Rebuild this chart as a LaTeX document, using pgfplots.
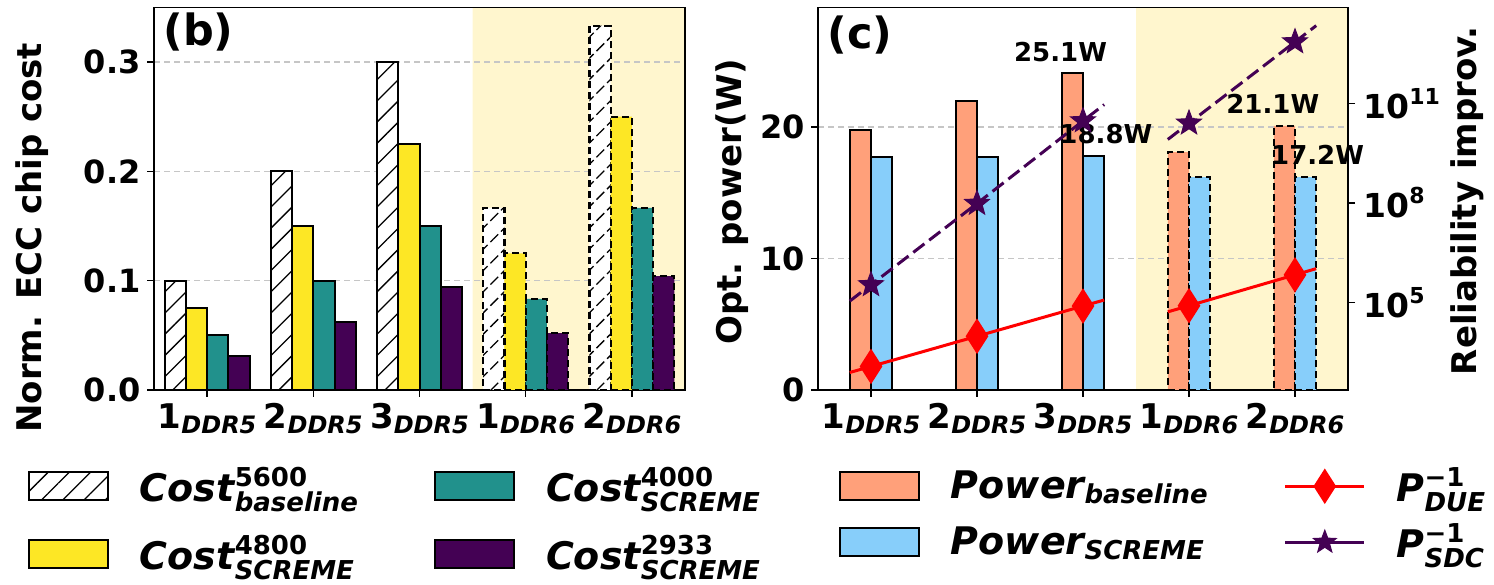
\documentclass[border=0pt]{standalone}
\usepackage{fontspec}
\setmainfont{DejaVu Sans}
\usepackage{pgfplots}
\pgfplotsset{compat=1.18}
\usetikzlibrary{patterns.meta}
\definecolor{vyel}{HTML}{FDE725}
\definecolor{vteal}{HTML}{21918C}
\definecolor{vpur}{HTML}{440154}
\definecolor{salm}{HTML}{FFA07A}
\definecolor{skyb}{HTML}{87CEFA}
\definecolor{shade}{RGB}{255,246,206}

\pgfdeclareplotmark{fstar}{%
  \pgfpathmoveto{\pgfqpointpolar{90}{\pgfplotmarksize}}%
  \pgfpathlineto{\pgfqpointpolar{126}{0.42\pgfplotmarksize}}%
  \pgfpathlineto{\pgfqpointpolar{162}{\pgfplotmarksize}}%
  \pgfpathlineto{\pgfqpointpolar{198}{0.42\pgfplotmarksize}}%
  \pgfpathlineto{\pgfqpointpolar{234}{\pgfplotmarksize}}%
  \pgfpathlineto{\pgfqpointpolar{270}{0.42\pgfplotmarksize}}%
  \pgfpathlineto{\pgfqpointpolar{306}{\pgfplotmarksize}}%
  \pgfpathlineto{\pgfqpointpolar{342}{0.42\pgfplotmarksize}}%
  \pgfpathlineto{\pgfqpointpolar{18}{\pgfplotmarksize}}%
  \pgfpathlineto{\pgfqpointpolar{54}{0.42\pgfplotmarksize}}%
  \pgfpathclose
  \pgfusepathqfillstroke
}

\newcommand{\xl}[2]{#1\raisebox{-2.5pt}{\fontsize{12}{12}\selectfont\itshape #2}}
\newcommand{\supsub}[2]{\rlap{\raisebox{7.5pt}{\fontsize{13}{13}\selectfont\upshape #1}}\raisebox{-5pt}{\fontsize{13}{13}\selectfont #2}}
\newcommand{\subonly}[1]{\raisebox{-2.5pt}{\fontsize{13}{13}\selectfont #1}}

\pgfplotsset{
  mybase/.style={
    scale only axis, width=265.5pt, height=191.3pt, anchor=south west,
    xmin=-0.5, xmax=4.5, xtick={0,1,2,3,4},
    xticklabels={{\xl{1}{DDR5}},{\xl{2}{DDR5}},{\xl{3}{DDR5}},{\xl{1}{DDR6}},{\xl{2}{DDR6}}},
    tick align=outside, major tick length=3.5pt,
    /pgf/number format/assume math mode=true,
    x tick label style={font=\fontsize{17}{17}\selectfont\bfseries, inner sep=3pt},
    y tick label style={font=\fontsize{16}{16}\selectfont\bfseries, inner sep=3pt},
    label style={font=\fontsize{17}{17}\selectfont\bfseries},
    axis line style={line width=0.7pt},
    every tick/.style={black, line width=0.7pt},
    set layers=standard,
    legend image code/.code={\draw[#1] (0pt,-7pt) rectangle (39.5pt,7pt);},
    legend style={draw=none, fill=none, inner sep=0pt, outer sep=0pt,
      legend columns=2, legend cell align=left,
      font=\fontsize{19}{19}\selectfont\bfseries\itshape,
      nodes={inner sep=0pt},
      /tikz/every odd column/.append style={column sep=15.5pt},
      /tikz/every even column/.append style={column sep=38pt}},
  },
  barstyle/.style={ybar, bar width=0.2, draw=black, line width=1pt, forget plot},
  ddrsix/.style={dash pattern=on 3.5pt off 2pt, line width=1.1pt},
  hatch/.style={fill=white, postaction={pattern={Lines[angle=45,distance=7.5pt,line width=0.65pt]}}},
  linelegend/.style={legend image code/.code={\draw[mark repeat=2,mark phase=2,##1] plot coordinates {(0pt,0pt) (19.75pt,0pt) (39.5pt,0pt)};}},
}

\begin{document}
\begin{tikzpicture}

% ---------------- (b) ----------------
\begin{axis}[mybase, at={(77pt,97pt)},
  ymin=0, ymax=0.35, ytick={0,0.1,0.2,0.3}, yticklabels={0.0,0.1,0.2,0.3},
  tick pos=left,
  ymajorgrids, grid style={dash pattern=on 3pt off 2pt, gray!45, line width=0.7pt},
  ylabel={Norm. ECC chip cost},
  ylabel style={at={(axis description cs:-0.230,0.398)}, anchor=center},
  legend style={at={(axis description cs:-0.2373,-0.3398)}, anchor=west, row sep=15.5pt},
]
\addplot[fill=shade, draw=none, on layer=axis background, forget plot] coordinates {(2.5,0) (2.5,0.35) (4.5,0.35) (4.5,0)} \closedcycle;

\addplot[barstyle, hatch, bar shift=-0.3] coordinates {(0,0.1) (1,0.2) (2,0.3)};
\addplot[barstyle, hatch, ddrsix, bar shift=-0.3] coordinates {(3,0.1667) (4,0.3333)};
\addplot[barstyle, fill=vyel, bar shift=-0.1] coordinates {(0,0.075) (1,0.15) (2,0.225)};
\addplot[barstyle, fill=vyel, ddrsix, bar shift=-0.1] coordinates {(3,0.125) (4,0.25)};
\addplot[barstyle, fill=vteal, bar shift=0.1] coordinates {(0,0.05) (1,0.1) (2,0.15)};
\addplot[barstyle, fill=vteal, ddrsix, bar shift=0.1] coordinates {(3,0.0833) (4,0.1667)};
\addplot[barstyle, fill=vpur, bar shift=0.3] coordinates {(0,0.0313) (1,0.0625) (2,0.0938)};
\addplot[barstyle, fill=vpur, ddrsix, bar shift=0.3] coordinates {(3,0.0521) (4,0.1042)};

\addlegendimage{hatch, draw=black, line width=1pt}
\addlegendentry{Cost\supsub{5600}{baseline}}
\addlegendimage{fill=vteal, draw=black, line width=1pt}
\addlegendentry{Cost\supsub{4000}{SCREME}}
\addlegendimage{fill=vyel, draw=black, line width=1pt}
\addlegendentry{Cost\supsub{4800}{SCREME}}
\addlegendimage{fill=vpur, draw=black, line width=1pt}
\addlegendentry{Cost\supsub{2933}{SCREME}}

\node[anchor=north west, inner sep=0pt, font=\fontsize{21.5}{21.5}\selectfont\bfseries] at (rel axis cs:0,1) [xshift=4.5pt, yshift=-2.5pt] {(b)};
\end{axis}

% ---------------- (c) power ----------------
\begin{axis}[mybase, at={(409pt,97pt)}, width=265pt,
  ymin=0, ymax=29.1, ytick={0,10,20}, yticklabels={0,10,20},
  tick pos=left,
  ymajorgrids, grid style={dash pattern=on 3pt off 2pt, gray!45, line width=0.7pt},
  ylabel={Opt. power(W)},
  ylabel style={at={(axis description cs:-0.162,0.492)}, anchor=center},
  legend style={at={(axis description cs:0.0396,-0.3247)}, anchor=west, row sep=9.5pt},
]
\addplot[fill=shade, draw=none, on layer=axis background, forget plot] coordinates {(2.5,0) (2.5,29.1) (4.5,29.1) (4.5,0)} \closedcycle;

\addplot[barstyle, fill=salm, bar shift=-0.1] coordinates {(0,19.77) (1,21.98) (2,24.1)};
\addplot[barstyle, fill=salm, ddrsix, bar shift=-0.1] coordinates {(3,18.1) (4,20.08)};
\addplot[barstyle, fill=skyb, bar shift=0.1] coordinates {(0,17.7) (1,17.75) (2,17.8)};
\addplot[barstyle, fill=skyb, ddrsix, bar shift=0.1] coordinates {(3,16.2) (4,16.2)};

\addlegendimage{fill=salm, draw=black, line width=1pt}
\addlegendentry{Power\subonly{baseline}}
\addlegendimage{linelegend, red, line width=1.5pt, mark=diamond*, mark size=7.5pt, mark options={solid, fill=red, xscale=0.85}}
\addlegendentry{P\supsub{\symbol{"2212}1}{DUE}}
\addlegendimage{fill=skyb, draw=black, line width=1pt}
\addlegendentry{Power\subonly{SCREME}}
\addlegendimage{linelegend, vpur, line width=1.5pt, mark=fstar, mark size=6pt, mark options={solid, fill=vpur, line width=0.5pt}}
\addlegendentry{P\supsub{\symbol{"2212}1}{SDC}}

\node[anchor=north west, inner sep=0pt, font=\fontsize{21.5}{21.5}\selectfont\bfseries] at (rel axis cs:0,1) [xshift=4.5pt, yshift=-4pt] {(c)};
\end{axis}

% ---------------- (c) reliability ----------------
\begin{axis}[scale only axis, width=265pt, height=191.3pt, anchor=south west, at={(409pt,97pt)},
  xmin=-0.5, xmax=4.5, axis x line=none, axis y line*=right, clip=false,
  ymode=log, ymin=229, ymax=7.76e13,
  ytick={1e5,1e8,1e11}, minor ytick={},
  yticklabels={{10\raisebox{7pt}{\fontsize{11}{11}\selectfont 5}},{10\raisebox{7pt}{\fontsize{11}{11}\selectfont 8}},{10\raisebox{7pt}{\fontsize{11}{11}\selectfont 11}}},
  tick align=outside, major tick length=3.5pt,
  y tick label style={font=\fontsize{16.5}{16.5}\selectfont\bfseries, inner sep=4pt},
  axis line style={line width=0.7pt},
  every tick/.style={black, line width=0.7pt},
  ylabel={Reliability improv.},
  ylabel style={font=\fontsize{17}{17}\selectfont\bfseries, at={(axis description cs:1.2245,0.495)}, anchor=center},
]
\addplot[red, line width=1.5pt, mark=diamond*, mark size=7.5pt, mark options={fill=red, xscale=0.85}, mark indices={2,3,4}]
  coordinates {(-0.2,773) (0,1175) (1,9550) (2,77600) (2.2,118000)};
\addplot[red, line width=1.5pt, mark=diamond*, mark size=7.5pt, mark options={fill=red, xscale=0.85}, mark indices={2,3}]
  coordinates {(2.8,51800) (3,79400) (4,676000) (4.2,1040000)};
\addplot[vpur, line width=1.5pt, dash pattern=on 7pt off 3pt, mark=fstar, mark size=6.5pt, mark options={solid, fill=vpur, line width=0.5pt}, mark indices={2,3,4}]
  coordinates {(-0.2,1.1e5) (0,3.39e5) (1,9.55e7) (2,2.95e10) (2.2,9.12e10)};
\addplot[vpur, line width=1.5pt, dash pattern=on 7pt off 3pt, mark=fstar, mark size=6.5pt, mark options={solid, fill=vpur, line width=0.5pt}, mark indices={2,3}]
  coordinates {(2.8,8.13e9) (3,2.51e10) (4,7.08e12) (4.2,2.19e13)};

\begin{scope}[every node/.style={font=\fontsize{13}{13}\selectfont\bfseries, inner sep=0pt}]
\node at (rel axis cs:0.4576,0.8832) {25.1W};
\node at (rel axis cs:0.5432,0.6701) {18.8W};
\node at (rel axis cs:0.858,0.749) {21.1W};
\node at (rel axis cs:0.9426,0.6151) {17.2W};
\end{scope}
\end{axis}

\pgfresetboundingbox
\useasboundingbox (0,0) rectangle (747pt,292pt);
\end{tikzpicture}
\end{document}
